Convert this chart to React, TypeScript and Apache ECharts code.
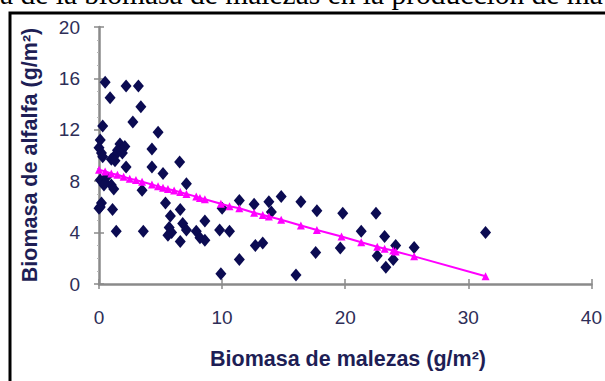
import React, { useEffect, useRef } from "react";
import * as echarts from "echarts";

const titleText = "a de la biomasa de malezas en la producción de ma";
const xName = "Biomasa de malezas (g/m²)";
const yName = "Biomasa de alfalfa (g/m²)";

// weed biomass (x) and alfalfa biomass (y) observations
const weedX = [
  0.5, 2.2, 3.2, 0.9, 3.4, 2.75, 0.3, 4.8, 0.1, 0.0, 0.2, 1.7, 1.5, 1.3, 1.0, 1.9,
  4.3, 6.55, 4.3, 2.2, 5.2, 0.1, 0.5, 1.0, 3.5, 7.1, 0.2, 0.0, 1.1, 5.4, 5.8, 6.6,
  5.7, 6.8, 1.4, 3.6, 5.9, 7.1, 6.6, 5.6, 7.9, 8.6, 8.2, 8.6, 9.8, 10.6, 9.9, 10.0,
  11.4, 12.6, 13.8, 14.8, 16.4, 17.7, 14.0, 12.7, 13.3, 11.4, 16.0, 17.6, 19.8, 22.5,
  21.3, 23.2, 24.1, 25.6, 19.6, 22.6, 23.9, 23.3, 31.4, 0.3, 1.9, 2.1, 0.6, 1.2, 0.4,
  0.1, 1.3,
];
const alfalfaY = [
  15.7, 15.4, 15.4, 14.5, 13.8, 12.6, 12.3, 11.8, 11.2, 10.6, 10.2, 10.9, 10.4, 10.0, 9.7, 10.2,
  10.5, 9.5, 9.1, 9.1, 8.6, 8.1, 7.9, 7.7, 7.3, 7.8, 6.3, 5.9, 5.8, 6.3, 5.3, 5.8,
  4.4, 4.7, 4.1, 4.1, 4.0, 4.2, 3.3, 3.8, 4.1, 4.9, 3.6, 3.4, 4.2, 4.1, 0.8, 5.9,
  6.5, 6.2, 6.4, 6.8, 6.4, 5.7, 5.6, 3.0, 3.2, 1.9, 0.7, 2.45, 5.5, 5.5,
  4.1, 3.7, 3.0, 2.85, 2.8, 2.2, 1.9, 1.3, 4.0, 9.9, 10.5, 10.7, 8.3, 7.4, 7.7,
  6.0, 9.6,
];

// fitted trend line points
const trendX = [0, 0.5, 1, 1.5, 2, 2.5, 3, 3.5, 4.3, 4.8, 5.2, 5.6, 6.1, 6.6, 7.1, 7.9, 8.2, 8.6, 9.9, 10.6, 11.4, 12.6, 13.3, 13.8, 14.8, 16.4, 17.7, 19.7, 21.3, 22.6, 23.2, 23.9, 24.1, 25.6, 31.4];
const trendY = [8.9, 8.75, 8.6, 8.5, 8.35, 8.2, 8.1, 7.95, 7.75, 7.6, 7.5, 7.4, 7.27, 7.15, 7.0, 6.8, 6.7, 6.6, 6.25, 6.05, 5.9, 5.55, 5.37, 5.25, 5.0, 4.55, 4.2, 3.7, 3.25, 2.9, 2.75, 2.6, 2.53, 2.15, 0.6];

const xTicks = { min: 0, max: 40, interval: 10 };
const yTicks = { min: 0, max: 20, interval: 4 };

export default function App() {
  const ref = useRef<HTMLDivElement>(null);
  useEffect(() => {
    if (!ref.current) return;
    const chart = echarts.init(ref.current, null, { renderer: "svg" });
    const axisColor = "#8a8a8a";
    const labelColor = "#2e2e58";
    const font = "'Liberation Sans', Arial, sans-serif";
    const baseX = {
      type: "value" as const,
      ...xTicks,
      splitLine: { show: false },
    };
    const baseY = {
      type: "value" as const,
      ...yTicks,
      splitLine: { show: false },
    };
    chart.setOption({
      animation: false,
      backgroundColor: "#ffffff",
      grid: { left: 99, right: 12, top: 27, bottom: 97 },
      xAxis: [
        {
          ...baseX,
          axisLine: { show: true, lineStyle: { color: axisColor, width: 2.5 } },
          axisTick: { show: true, length: 5, lineStyle: { color: axisColor, width: 1.5 } },
          axisLabel: { margin: 24, fontSize: 19, color: labelColor, fontFamily: font },
        },
        {
          ...baseX,
          position: "bottom",
          axisLine: { show: false },
          axisTick: { show: true, inside: true, length: 5, lineStyle: { color: axisColor, width: 1.5 } },
          axisLabel: { show: false },
        },
      ],
      yAxis: [
        {
          ...baseY,
          axisLine: { show: true, lineStyle: { color: axisColor, width: 2.5 } },
          axisTick: { show: true, length: 5, lineStyle: { color: axisColor, width: 1.5 } },
          minorTick: { show: true, splitNumber: 4, length: 2, lineStyle: { color: "#b5b5b5", width: 1 } },
          axisLabel: { margin: 19, fontSize: 19, color: labelColor, fontFamily: font },
        },
        {
          ...baseY,
          position: "left",
          axisLine: { show: false },
          axisTick: { show: true, inside: true, length: 5, lineStyle: { color: axisColor, width: 1.5 } },
          axisLabel: { show: false },
        },
      ],
      graphic: [
        {
          type: "text",
          x: 0,
          y: 9,
          style: {
            text: titleText,
            fill: "#000000",
            font: "29.5px 'Liberation Serif', 'Times New Roman', serif",
            textAlign: "left",
            verticalAlign: "bottom",
          },
        },
        {
          type: "rect",
          shape: { x: 10, y: 13, width: 700, height: 500 },
          style: { fill: "none", stroke: "#000000", lineWidth: 3 },
        },
        {
          type: "text",
          x: 30,
          y: 155,
          rotation: Math.PI / 2,
          style: {
            text: yName,
            fill: "#1e1e55",
            font: "bold 21.5px 'Liberation Sans', Arial, sans-serif",
            textAlign: "center",
            verticalAlign: "middle",
          },
        },
        {
          type: "text",
          x: 348,
          y: 359,
          style: {
            text: xName,
            fill: "#1e1e55",
            font: "bold 21.5px 'Liberation Sans', Arial, sans-serif",
            textAlign: "center",
            verticalAlign: "middle",
          },
        },
      ],
      series: [
        {
          type: "scatter",
          data: weedX.map((x, i) => [x, alfalfaY[i]]),
          symbol: "diamond",
          symbolSize: [11, 13],
          itemStyle: { color: "#0b0b52", opacity: 1 },
          z: 2,
        },
        {
          type: "line",
          data: trendX.map((x, i) => [x, trendY[i]]),
          symbol: "triangle",
          symbolSize: 8,
          lineStyle: { color: "#ff00ff", width: 2 },
          itemStyle: { color: "#ff00ff", opacity: 1 },
          z: 3,
        },
      ],
    });
    return () => chart.dispose();
  }, []);
  return (
    <div
      ref={ref}
      style={{ position: "fixed", left: 0, top: 0, width: 605, height: 381 }}
    />
  );
}
